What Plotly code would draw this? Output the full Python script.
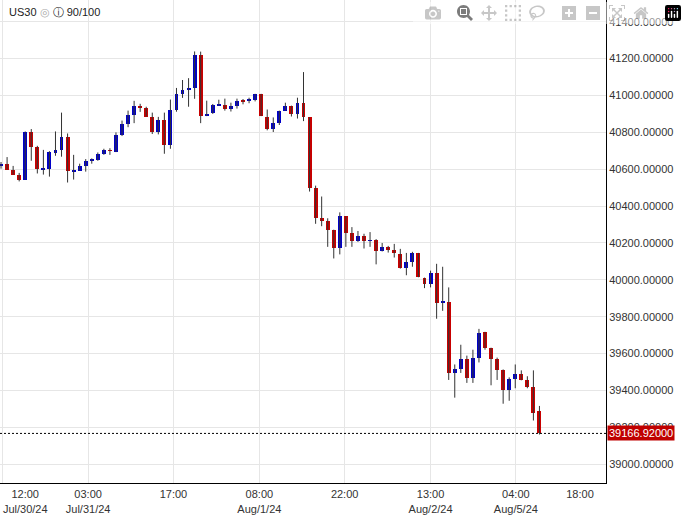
import plotly.graph_objects as go

# hourly US30 candles
opens = [40619, 40628, 40596, 40569, 40544, 40800, 40719, 40596, 40603, 40693,
         40703, 40773, 40587, 40593, 40619, 40646, 40652, 40682, 40703, 40696,
         40784, 40843, 40896, 40944, 40934, 40886, 40800, 40869, 40732, 40919,
         41009, 41030, 41041, 41218, 40888, 40904, 40947, 40950, 40925, 40945,
         40974, 40972, 40977, 41009, 40886, 40818, 40849, 40918, 40945, 40897,
         40961, 40881, 40500, 40334, 40318, 40272, 40173, 40345, 40254, 40213,
         40238, 40212, 40216, 40154, 40179, 40162, 40141, 40066, 40098, 40146,
         40012, 39977, 40039, 39875, 39882, 39495, 39514, 39568, 39466, 39578,
         39718, 39632, 39568, 39509, 39402, 39461, 39487, 39455, 39418, 39289]
highs = [40639, 40666, 40618, 40580, 40805, 40818, 40727, 40705, 40698, 40805,
         40907, 40794, 40678, 40630, 40655, 40659, 40691, 40711, 40714, 40800,
         40864, 40918, 40971, 40955, 40939, 40907, 40884, 40907, 40978, 41041,
         41084, 41094, 41239, 41238, 40972, 40954, 40977, 40983, 40961, 40983,
         40981, 40988, 41009, 41009, 40924, 40881, 40918, 40961, 40945, 40988,
         41127, 40881, 40511, 40452, 40334, 40272, 40366, 40345, 40286, 40265,
         40250, 40259, 40221, 40200, 40184, 40195, 40168, 40146, 40152, 40146,
         40012, 40050, 40087, 40071, 39959, 39541, 39648, 39589, 39621, 39734,
         39718, 39632, 39578, 39514, 39471, 39541, 39509, 39477, 39509, 39316]
lows = [40603, 40598, 40571, 40534, 40544, 40646, 40577, 40571, 40560, 40673,
        40668, 40528, 40544, 40593, 40587, 40630, 40646, 40678, 40678, 40693,
        40780, 40828, 40850, 40911, 40886, 40791, 40789, 40684, 40711, 40912,
        40987, 40939, 40982, 40850, 40888, 40900, 40945, 40918, 40913, 40929,
        40952, 40958, 40968, 40888, 40811, 40802, 40840, 40918, 40886, 40875,
        40861, 40479, 40304, 40291, 40179, 40116, 40138, 40179, 40179, 40206,
        40170, 40179, 40084, 40154, 40148, 40121, 40061, 40025, 40071, 40014,
        39955, 39959, 39789, 39832, 39457, 39361, 39495, 39441, 39441, 39552,
        39621, 39428, 39457, 39328, 39344, 39412, 39455, 39412, 39237, 39161]
closes = [40630, 40598, 40571, 40544, 40800, 40721, 40603, 40602, 40693, 40703,
          40773, 40593, 40593, 40618, 40644, 40652, 40682, 40703, 40700, 40784,
          40843, 40896, 40944, 40936, 40886, 40800, 40869, 40732, 40919, 41009,
          41030, 41041, 41218, 40888, 40900, 40950, 40952, 40925, 40945, 40972,
          40968, 40977, 41009, 40888, 40818, 40849, 40918, 40945, 40897, 40961,
          40881, 40500, 40336, 40318, 40272, 40173, 40345, 40254, 40213, 40238,
          40213, 40216, 40154, 40179, 40164, 40143, 40066, 40098, 40146, 40014,
          39977, 40039, 39875, 39882, 39495, 39514, 39568, 39466, 39578, 39712,
          39632, 39568, 39509, 39402, 39461, 39487, 39455, 39418, 39280, 39166.92]

last_price = 39166.92
price_ticks = list(range(39000, 41401, 200))
time_pos = [4.0, 14.4, 28.5, 42.7, 56.8, 71.0, 85.1, 95.7]
time_labels = ["12:00<br>Jul/30/24", "03:00<br>Jul/31/24", "17:00", "08:00<br>Aug/1/24",
               "22:00", "13:00<br>Aug/2/24", "04:00<br>Aug/5/24", "18:00"]
grid_pos = [0.2, 14.4, 28.5, 42.7, 56.8, 71.0, 85.1]

BLUE = "#0000c8"
RED = "#c80000"

idx = list(range(len(opens)))

# wicks as one broken line
wx, wy = [], []
for i, h, l in zip(idx, highs, lows):
    wx += [i, i, None]
    wy += [l, h, None]

bases = [min(o, c) for o, c in zip(opens, closes)]
heights = [max(abs(c - o), 4) for o, c in zip(opens, closes)]
colors = [BLUE if c >= o else RED for o, c in zip(opens, closes)]

fig = go.Figure()
fig.add_trace(go.Scatter(x=wx, y=wy, mode="lines", line=dict(color="#333333", width=1),
                         hoverinfo="skip", showlegend=False))
fig.add_trace(go.Bar(x=idx, y=heights, base=bases, width=0.65, marker_color=colors,
                     marker_line_width=0, showlegend=False))
# invisible trace on the second x axis so its grid is drawn
fig.add_trace(go.Scatter(x=[grid_pos[0]], y=[last_price], xaxis="x2", mode="markers",
                         marker_opacity=0, showlegend=False, hoverinfo="skip"))

fig.add_shape(type="line", xref="paper", x0=0, x1=1, yref="y", y0=last_price, y1=last_price,
              line=dict(color="#000000", width=1, dash="2px,2px"))

fig.add_annotation(xref="paper", x=1.0, yref="y", y=last_price, xanchor="left", xshift=1,
                   text="39166.92000", showarrow=False, bgcolor="#c00000",
                   font=dict(color="white", size=11, family="Liberation Sans, Arial"),
                   borderpad=1)
fig.add_annotation(xref="paper", yref="paper", x=0.012, y=0.975, xanchor="left", yanchor="middle",
                   text="US30 <span style='color:#aaaaaa'>◎</span> ⓘ 90/100", showarrow=False,
                   font=dict(color="#222222", size=11, family="Liberation Sans, Arial"))

axis_font = dict(family="Liberation Sans, Arial", size=11, color="#333333")
fig.update_layout(
    width=687, height=515,
    margin=dict(l=0, r=81, t=0, b=26),
    paper_bgcolor="white", plot_bgcolor="white",
    bargap=0,
    font=axis_font,
    xaxis=dict(range=[-0.17, 100], tickvals=time_pos, ticktext=time_labels, showgrid=False,
               zeroline=False, showline=True, linecolor="#000000", linewidth=1,
               ticks="outside", ticklen=1, tickcolor="white", tickfont=axis_font),
    xaxis2=dict(range=[-0.17, 100], overlaying="x", tickvals=grid_pos, showticklabels=False,
                showgrid=True, gridcolor="#e6e6e6", zeroline=False, ticks=""),
    yaxis=dict(range=[38898, 41518], side="right", tickvals=price_ticks, tickformat=".5f",
               showgrid=True, gridcolor="#e6e6e6", zeroline=False, showline=True,
               linecolor="#000000", linewidth=1, ticks="", tickfont=axis_font),
)

fig.write_html("out.html", post_script="document.body.style.margin='0';")
